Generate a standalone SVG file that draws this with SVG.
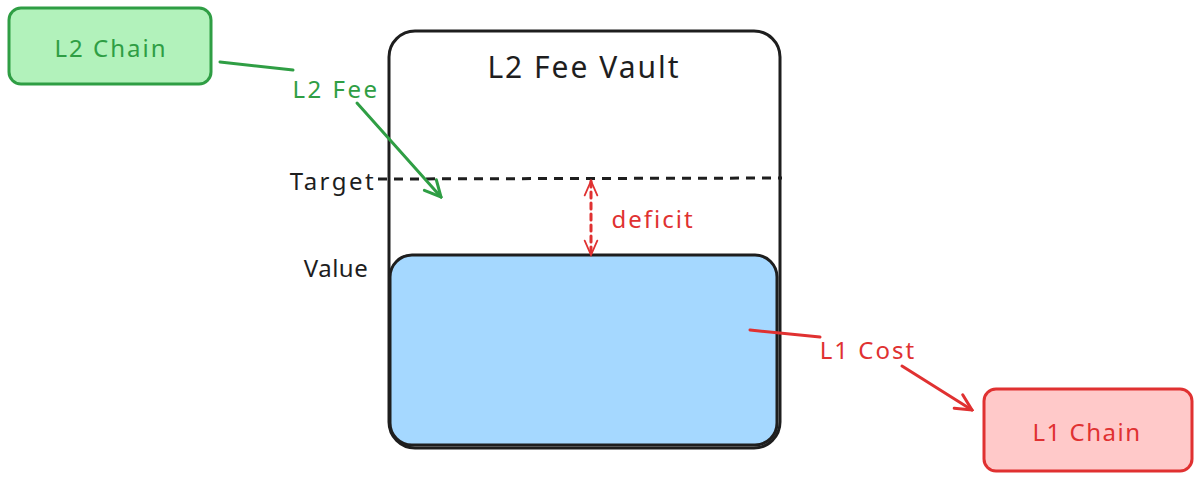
<svg xmlns="http://www.w3.org/2000/svg" width="1200" height="480" viewBox="0 0 1200 480">
<style>
text{font-family:"Noto Sans","Liberation Sans",sans-serif;dominant-baseline:central;text-anchor:middle;font-size:24px;letter-spacing:2px}
.g{fill:#2f9e44}.r{fill:#e03131}.k{fill:#1e1e1e}
.gl{stroke:#2f9e44;stroke-width:3;fill:none;stroke-linecap:round}
.rl{stroke:#e03131;stroke-width:3;fill:none;stroke-linecap:round}
</style>
<defs>
<marker id="ag" viewBox="0 0 20 20" refX="18" refY="10" markerWidth="20" markerHeight="20" markerUnits="userSpaceOnUse" orient="auto"><path d="M2,2 L18,10 L2,18" fill="none" stroke="#2f9e44" stroke-width="3" stroke-linecap="round"/></marker>
<marker id="ar" viewBox="0 0 20 20" refX="18" refY="10" markerWidth="20" markerHeight="20" markerUnits="userSpaceOnUse" orient="auto"><path d="M2,2 L18,10 L2,18" fill="none" stroke="#e03131" stroke-width="3" stroke-linecap="round"/></marker>
<marker id="ad" viewBox="0 0 20 20" refX="18" refY="10" markerWidth="18" markerHeight="18" markerUnits="userSpaceOnUse" orient="auto-start-reverse"><path d="M2,3 L18,10 L2,17" fill="none" stroke="#e03131" stroke-width="2" stroke-linecap="round"/></marker>
</defs>
<rect width="1200" height="480" fill="#fff"/>
<g id="vault">
<rect x="389" y="31" width="391" height="417" rx="26" fill="#fff" stroke="#1e1e1e" stroke-width="3"/>
<text x="584" y="66" class="k" style="font-size:30px">L2 Fee Vault</text>
</g>
<g id="value-fill">
<rect x="390" y="255" width="387" height="190" rx="22" fill="#a5d8ff" stroke="#1e1e1e" stroke-width="3"/>
</g>
<g id="target-line">
<line x1="378" y1="179" x2="782" y2="178" stroke="#1e1e1e" stroke-width="3" stroke-dasharray="9,7"/>
<text x="333" y="180" class="k" style="letter-spacing:2.5px">Target</text>
</g>
<g id="value-label"><text x="336" y="267" class="k" style="letter-spacing:0.5px">Value</text></g>
<g id="l2chain">
<rect x="9" y="8" width="202" height="76" rx="12" fill="#b2f2bb" stroke="#2f9e44" stroke-width="3"/>
<text x="111" y="47" class="g">L2 Chain</text>
</g>
<g id="l1chain">
<rect x="984" y="389" width="208" height="82" rx="12" fill="#ffc9c9" stroke="#e03131" stroke-width="3"/>
<text x="1087" y="431" class="r" style="letter-spacing:1.5px">L1 Chain</text>
</g>
<g id="connectors">
<path class="gl" d="M220,62 L293,70"/>
<path class="gl" d="M357,103 L441,197" marker-end="url(#ag)"/>
<text x="336" y="88" class="g" style="letter-spacing:2.5px">L2 Fee</text>
<path class="rl" stroke-width="2" stroke-dasharray="6,5" d="M591,181 L591,255" marker-start="url(#ad)" marker-end="url(#ad)"/>
<text x="653" y="218" class="r">deficit</text>
<path class="rl" d="M750,330 L820,337"/>
<path class="rl" d="M902,366 L972,410" marker-end="url(#ar)"/>
<text x="868" y="349" class="r">L1 Cost</text>
</g>
</svg>
